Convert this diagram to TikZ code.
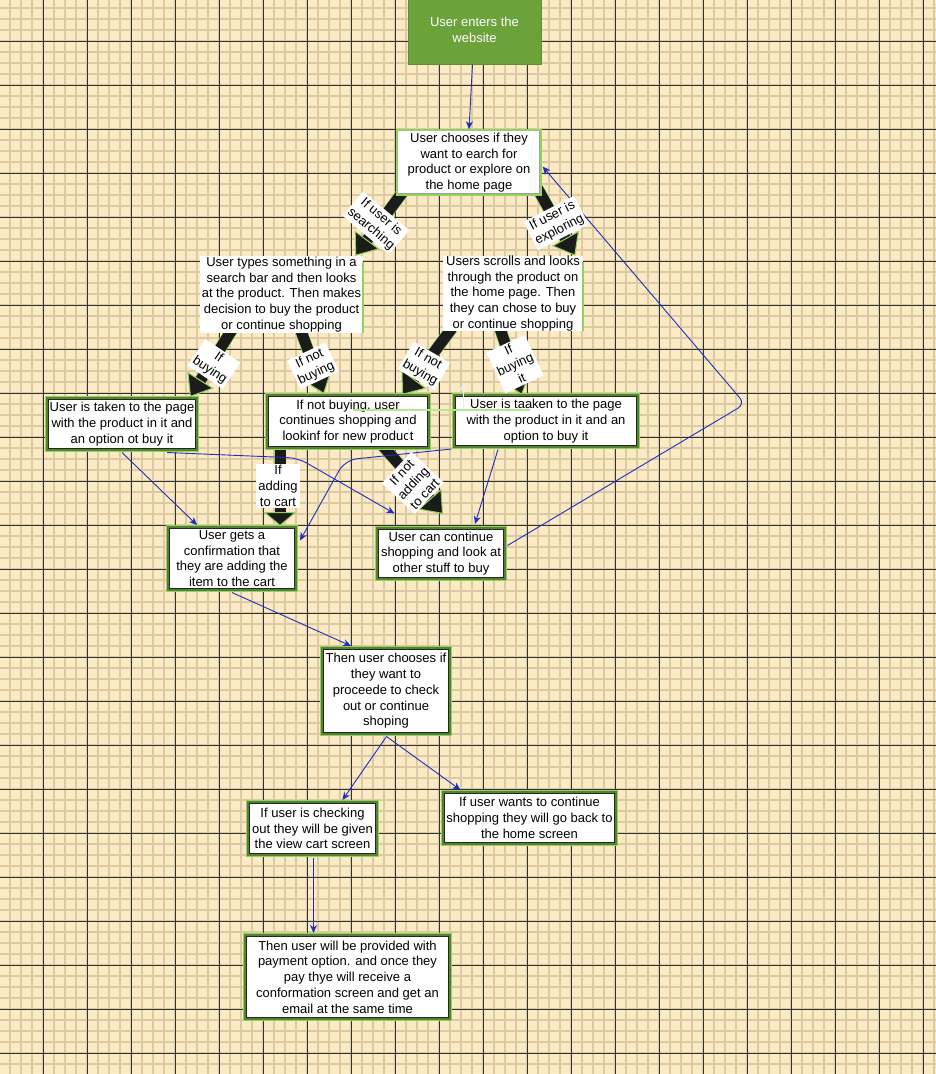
\documentclass[tikz,border=0pt]{standalone}
\usepackage{fontspec}
\setmainfont{Liberation Sans}
\usetikzlibrary{arrows.meta,calc}

\definecolor{paper}{HTML}{FBEAC3}
\definecolor{minorln}{HTML}{DCCAA5}
\definecolor{majorln}{HTML}{333333}
\definecolor{startfill}{HTML}{6CA23A}
\definecolor{startedge}{HTML}{5E8F32}
\definecolor{lgreen}{HTML}{92D35F}
\definecolor{pgreen}{HTML}{B4E68C}
\definecolor{dgreen}{HTML}{55822F}
\definecolor{linkblue}{HTML}{1E30BE}
\definecolor{blockfill}{HTML}{1B1B1B}

\newcommand\boxfont{\fontsize{13}{15.7}\selectfont}

\tikzset{
  every node/.style={font=\boxfont, align=center, inner sep=0pt},
  startbox/.style={fill=startfill, draw=startedge, line width=1pt, text=white},
  plainbox/.style={fill=white, draw=lgreen, line width=1.3pt},
  textbox/.style={fill=white},
  dbox/.style={fill=white, draw=black!85, line width=1pt,
    preaction={draw=lgreen, line width=7pt},
    preaction={draw=dgreen, line width=4.6pt}},
  lbl/.style={fill=white, inner sep=2pt},
  link/.style={draw=linkblue, line width=0.9pt,
    -{Stealth[length=8pt,width=7pt,inset=2.5pt]}},
  bigarrow/.style={draw=blockfill, line width=11pt,
    preaction={draw=lgreen, line width=12.2pt, arrows=-, shorten >=18pt},
    -{Triangle[width=31pt,length=20pt,fill=blockfill,color=lgreen,line width=1pt]}},
  minor/.style={draw=minorln, line width=2pt},
  major/.style={draw=majorln, line width=1pt}
}

\begin{document}
\begin{tikzpicture}[x=1pt, y=-1pt]
\useasboundingbox (0,0) rectangle (936,1074);
\clip (0,0) rectangle (936,1074);

% squared paper
\fill[paper] (0,0) rectangle (936,1074);
\foreach \i in {0,...,84} \draw[minor] ({10.3+11*\i},0) -- ++(0,1074);
\foreach \j in {0,...,96} \draw[minor] (0,{8.3+11*\j}) -- ++(936,0);
\foreach \i in {0,...,21} \draw[major] ({-0.7+44*\i},0) -- ++(0,1074);
\foreach \j in {0,...,23} \draw[major] (0,{41+44*\j}) -- ++(936,0);

% boxes
\node[startbox, minimum width=133, minimum height=68] (n1) at (474.5,30) {User enters the\\website};
\node[plainbox, minimum width=144, minimum height=65] (n2) at (469,162.5)
  {User chooses if they\\want to earch for\\product or explore on\\the home page};
\node[textbox, minimum width=163, minimum height=77] (n3) at (281.5,294.5)
  {User types something in a\\search bar and then looks\\at the product. Then makes\\decision to buy the product\\or continue shopping};
\node[textbox, minimum width=140, minimum height=75] (n4) at (513,293.5)
  {Users scrolls and looks\\through the product on\\the home page. Then\\they can chose to buy\\or continue shopping};

% block arrows (under the boxes they leave)
\draw[bigarrow] ($(n2.south west)+(9,-7)$) -- ($(n3.north east)+(-8,0)$);
\draw[bigarrow] ($(n2.south east)+(-4,-7)$) -- ($(n4.north east)+(-8,0)$);
\draw[bigarrow] ($(n3.south)+(-48.5,-5)$) -- (190,397);
\draw[bigarrow] ($(n3.south)+(18.5,-5)$) -- (324,394);
\draw[bigarrow] ($(n4.south)+(-61,-3)$) -- (402,395);
\draw[bigarrow] ($(n4.south)+(-13,-3)$) -- (522,395);

% redraw the two source boxes above their arrow tails
\node[plainbox, minimum width=144, minimum height=65] at (n2)
  {User chooses if they\\want to earch for\\product or explore on\\the home page};
\draw[gray!75, line width=1.2pt] ($(n2.north east)+(-2,2)$) -- ($(n2.south east)+(-2,-2)$) -- ($(n2.south west)+(2,-2)$);
\node[textbox, minimum width=163, minimum height=77] at (n3)
  {User types something in a\\search bar and then looks\\at the product. Then makes\\decision to buy the product\\or continue shopping};
\node[textbox, minimum width=140, minimum height=75] at (n4)
  {Users scrolls and looks\\through the product on\\the home page. Then\\they can chose to buy\\or continue shopping};
\draw[lgreen, line width=1.5pt] ($(n3.north east)+(0,6)$) -- (n3.south east);
\draw[lgreen, line width=1.5pt] ($(n4.north east)+(0,6)$) -- (n4.south east);

\node[dbox, minimum width=147, minimum height=49] (n5) at (122,424)
  {User is taken to the page\\with the product in it and\\an option ot buy it};
\node[dbox, minimum width=159, minimum height=50] (n6) at (348,421.5)
  {If not buying, user\\continues shopping and\\lookinf for new product};
\node[dbox, minimum width=181, minimum height=49] (n7) at (546,421)
  {User is taaken to the page\\with the product in it and an\\option to buy it};

\draw[bigarrow, -{Triangle[width=33pt,length=14pt,fill=blockfill,color=lgreen,line width=1pt]}]
  ($(n6.south)+(-68,-2)$) -- (280,526);
\draw[bigarrow] ($(n6.south)+(34,-2)$) -- (443,514);
\node[dbox, minimum width=159, minimum height=50] at (n6)
  {If not buying, user\\continues shopping and\\lookinf for new product};

\node[dbox, minimum width=125, minimum height=60] (n8) at (232,558.5)
  {User gets a\\confirmation that\\they are adding the\\item to the cart};
\node[dbox, minimum width=125, minimum height=48] (n9) at (441,553.5)
  {User can continue\\shopping and look at\\other stuff to buy};
\node[dbox, minimum width=125, minimum height=83] (n10) at (386,691)
  {Then user chooses if\\they want to\\proceede to check\\out or continue\\shoping};
\node[dbox, minimum width=126, minimum height=50] (n11) at (312.5,828.5)
  {If user is checking\\out they will be given\\the view cart screen};
\node[dbox, minimum width=170, minimum height=49] (n12) at (529.5,818)
  {If user wants to continue\\shopping they will go back to\\the home screen};
\node[dbox, minimum width=202, minimum height=81] (n13) at (347.5,977)
  {Then user will be provided with\\payment option. and once they\\pay thye will receive a\\conformation screen and get an\\email at the same time};

% stray guide strokes over the middle row
\coordinate (g1) at (353,410);
\coordinate (g2) at (530,410);
\coordinate (g3) at (408,440);
\coordinate (g4) at (463,410);
\coordinate (g5) at (463,383);
\draw[pgreen, line width=2pt] (g1) -- (g2);
\draw[white!90!gray, line width=1pt] (g3 |- g1) -- (g3);
\draw[white!85!gray, line width=1pt, -{Stealth[length=8pt,width=7pt,inset=2.5pt]}] (g4) -- (g5);

% blue connectors
\draw[link] ($(n1.south)+(-2,0)$) -- (n2.north);
\draw[link, rounded corners=8pt] ($(n9.east)+(3.5,-8)$) -- (745,404) -- ($(n2.east)+(1,4)$);
\draw[link] ($(n5.south)+(0,3.5)$) -- ($(n8.north west)+(28,-3)$);
\draw[link, rounded corners=10pt] ($(n5.south)+(45,3.5)$) -- (298,458) -- ($(n9.north west)+(16.5,-15.5)$);
\draw[link, rounded corners=12pt] ($(n7.south west)+(-3.5,3)$) -- (345,460) -- ($(n8.east)+(5,-18)$);
\draw[link] ($(n7.south)+(-48,3.5)$) -- ($(n9.north)+(34,-5)$);
\draw[link] ($(n8.south)+(0,3.5)$) -- ($(n10.north)+(-35,-3)$);
\draw[link] ($(n10.south)+(0.5,3.5)$) -- ($(n11.north)+(30,-3)$);
\draw[link] ($(n10.south)+(0.5,3.5)$) -- ($(n12.north)+(-69,-3)$);
\draw[link] ($(n11.south)+(1,3.5)$) -- ($(n13.north)+(-34,-3)$);

% arrow labels
\node[lbl, rotate=-40] (l1) at (376,223) {If user is\\searching};
\node[lbl, rotate=27] (l2) at (556,223) {If user is\\exploring};
\node[lbl, rotate=-34] (l3) at (214,364) {If\\buying};
\node[lbl, rotate=25] (l4) at (313,366) {If not\\buying};
\node[lbl, rotate=-30] (l5) at (424,366) {If not\\buying};
\node[lbl, rotate=25] (l6) at (515,364) {If\\buying\\it};
\node[lbl] (l7) at (278,486) {If\\adding\\to cart};
\node[lbl, rotate=47] (l8) at (413,483) {If not\\adding\\to cart};
\end{tikzpicture}
\end{document}
